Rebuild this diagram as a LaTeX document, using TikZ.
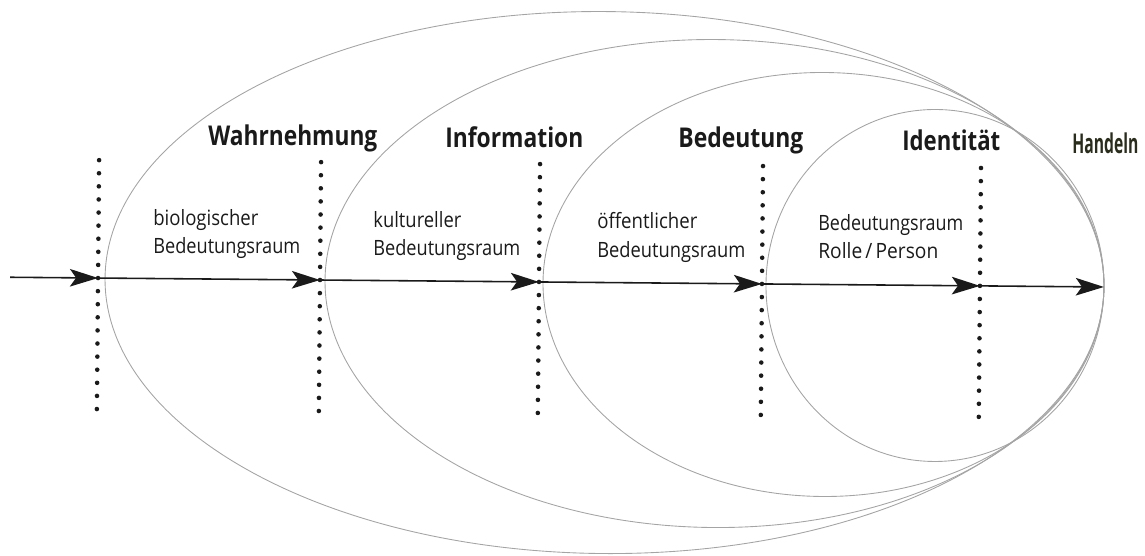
\documentclass[tikz,border=0pt]{standalone}
\usepackage{fontspec}
\setmainfont{Open Sans}
\usepackage{graphicx}
\usetikzlibrary{arrows.meta}
\definecolor{ink}{HTML}{1A1A1A}
\definecolor{olive}{HTML}{2A2C1C}
\definecolor{ringgray}{HTML}{A4A4A4}
\newcommand{\fitw}[2]{\resizebox{#1}{\height}{#2}}
\tikzset{
  heading/.style={anchor=base west, inner sep=0pt, text=ink, font=\bfseries\fontsize{15.5}{17}\selectfont},
  smalltxt/.style={anchor=base west, inner sep=0pt, text=ink, font=\fontsize{12}{14}\selectfont},
  actlabel/.style={anchor=base west, inner sep=0pt, text=olive, font=\bfseries\fontsize{15.5}{17}\selectfont},
  ring/.style={draw=ringgray, line width=0.5pt},
  flow/.style={draw=ink, line width=0.9pt, -{Stealth[length=16pt,width=10pt,inset=3.5pt]}},
  dotfill/.style={fill=ink, draw=none}
}
\begin{document}
\begin{tikzpicture}[x=0.02cm, y=-0.02cm]
\useasboundingbox (0,0) rectangle (1145,555);
\begin{scope}[rotate around={-0.51:(600,282.5)}]
  % nested spaces
  \draw[ring] (604.5,282.5) ellipse [x radius=499.5, y radius=271];
  \draw[ring] (714.5,282.5) ellipse [x radius=389.5, y radius=244];
  \draw[ring] (823.5,282.5) ellipse [x radius=280.5, y radius=212];
  \draw[ring] (935,282.5) ellipse [x radius=169, y radius=176];
  % points on the axis
  \coordinate (s) at (10,282.5);
  \coordinate (d1) at (98,282.5);
  \coordinate (d2) at (320,282.5);
  \coordinate (d3) at (539,282.5);
  \coordinate (d4) at (762,282.5);
  \coordinate (d5) at (980,282.5);
  \coordinate (e) at (1104,282.5);
  % dotted boundaries
  \foreach \p in {d1,d2,d3,d4,d5}{
    \foreach \i in {0,...,19}{
      \fill[dotfill] (\p) ++(0,{-117.9+13.1*\i}) circle [radius=1.3pt];
    }
  }
  % flow arrows
  \draw[flow] (s) -- (d1);
  \draw[flow] (d1) -- (d2);
  \draw[flow] (d2) -- (d3);
  \draw[flow] (d3) -- (d4);
  \draw[flow] (d4) -- (d5);
  \draw[flow] (d5) -- (e);
\end{scope}
% headings
\node[heading] (h1) at (208,145) {\fitw{3.38cm}{Wahrnehmung}};
\node[heading] (h2) at (445,147) {\fitw{2.76cm}{Information}};
\node[heading] (h3) at (678,147) {\fitw{2.50cm}{Bedeutung}};
\node[heading] (h4) at (902,150) {\fitw{1.96cm}{Identität}};
\node[actlabel] (h5) at (1072,153) {\fitw{1.32cm}{Handeln}};
% descriptions
\node[smalltxt] (a1) at (153,225) {\fitw{2.10cm}{biologischer}};
\node[smalltxt] (a2) at (153,253) {\fitw{2.94cm}{Bedeutungsraum}};
\node[smalltxt] (b1) at (373,227) {\fitw{1.76cm}{kultureller}};
\node[smalltxt] (b2) at (373,255) {\fitw{2.94cm}{Bedeutungsraum}};
\node[smalltxt] (c1) at (597,228) {\fitw{2.00cm}{öffentlicher}};
\node[smalltxt] (c2) at (597,257) {\fitw{2.96cm}{Bedeutungsraum}};
\node[smalltxt] (f1) at (818,230) {\fitw{2.90cm}{Bedeutungsraum}};
\node[smalltxt] (f2) at (818,258) {\fitw{2.40cm}{Rolle\,/\,Person}};
\end{tikzpicture}
\end{document}
